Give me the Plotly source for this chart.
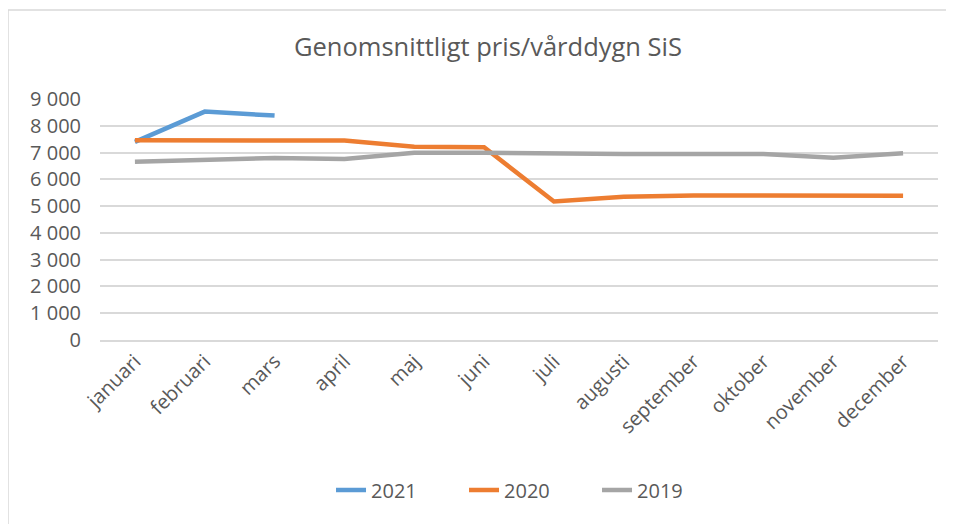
import plotly.graph_objects as go

months = ["januari", "februari", "mars", "april", "maj", "juni", "juli",
          "augusti", "september", "oktober", "november", "december"]
y2021 = [7400, 8530, 8380]
y2020 = [7460, 7460, 7460, 7450, 7220, 7200, 5170, 5350, 5400, 5400, 5380, 5390]
y2019 = [6660, 6730, 6800, 6760, 6990, 6990, 6960, 6950, 6950, 6950, 6810, 6970]
yticks = [0, 1000, 2000, 3000, 4000, 5000, 6000, 7000, 8000, 9000]

font_family = "Open Sans, sans-serif"
grey_text = "#595959"

OFF = 8  # page body margin
W, H = 954 - OFF, 524 - OFF
L, T = 100 - OFF, 99 - OFF
R = W - (938 - OFF)
B = H - (340 - OFF)
pw, ph = W - L - R, H - T - B

def px_x(x):
    return (x - OFF - L) / pw

def px_y(y):
    return (H - B - (y - OFF)) / ph

fig = go.Figure()
fig.add_trace(go.Scatter(x=months[:len(y2021)], y=y2021, mode="lines", name="2021",
                         line=dict(color="#5b9bd5", width=4.5)))
fig.add_trace(go.Scatter(x=months, y=y2020, mode="lines", name="2020",
                         line=dict(color="#ed7d31", width=4.5)))
fig.add_trace(go.Scatter(x=months, y=y2019, mode="lines", name="2019",
                         line=dict(color="#a5a5a5", width=4.5)))

fig.update_layout(
    width=W, height=H,
    paper_bgcolor="white", plot_bgcolor="white",
    margin=dict(l=L, r=R, t=T, b=B, autoexpand=False),
    separators=", ",
    title=dict(text="Genomsnittligt pris/vårddygn SiS", x=(488 - OFF) / W, xanchor="center",
               y=1 - (47 - OFF) / H, yanchor="middle",
               font=dict(family=font_family, size=25.5, color=grey_text)),
    font=dict(family=font_family, size=19, color=grey_text),
    showlegend=True,
    legend=dict(orientation="h", x=(494 - OFF) / W, xanchor="center",
                yref="container", y=1 - (490 - OFF) / H, yanchor="middle",
                entrywidth=88, entrywidthmode="pixels",
                font=dict(size=20, color=grey_text)),
    xaxis=dict(type="category", categoryorder="array", categoryarray=months,
               range=[-0.5, 11.5], automargin=False,
               tickangle=-45, showgrid=False, showline=True, linecolor="#d9d9d9",
               linewidth=1.5, ticks="", tickfont=dict(size=20, color=grey_text)),
    yaxis=dict(range=[0, 9000], tickvals=yticks, tickformat=",d", automargin=False,
               showgrid=True, gridcolor="#d9d9d9", gridwidth=1.5,
               zeroline=False, showline=False, ticks="", ticklabelstandoff=18,
               tickfont=dict(size=20, color=grey_text)),
    shapes=[
        dict(type="line", xref="paper", yref="paper", x0=px_x(8), x1=px_x(960),
             y0=px_y(10), y1=px_y(10), line=dict(color="#d9d9d9", width=1.5)),
        dict(type="line", xref="paper", yref="paper", x0=px_x(8), x1=px_x(8),
             y0=px_y(10), y1=px_y(530), line=dict(color="#d9d9d9", width=1.5)),
    ],
)

fig.write_html("out.html")
